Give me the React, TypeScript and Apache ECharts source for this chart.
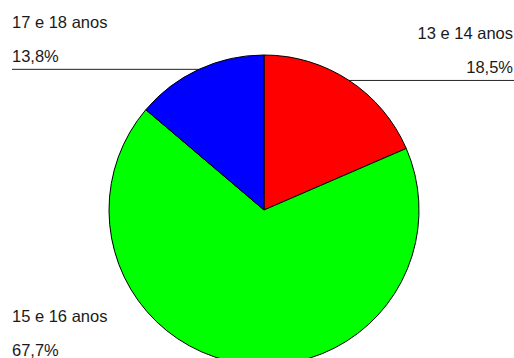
import React, { useEffect, useRef } from "react";
import * as echarts from "echarts";

// Age groups and their shares (%)
const categories = ["13 e 14 anos", "15 e 16 anos", "17 e 18 anos"];
const shares = [18.5, 67.7, 13.8];
const sliceColors = ["#ff0000", "#00ff00", "#0000ff"];

const W = 514;
const H = 358;

const fmtPct = (v: number) => v.toFixed(1).replace(".", ",") + "%";

export default function App() {
  const ref = useRef<HTMLDivElement>(null);

  useEffect(() => {
    if (!ref.current) return;
    const chart = echarts.init(ref.current, undefined, { renderer: "svg" });
    const cx = 264;
    const leftEdge = 12;
    const rightEdge = 513;

    chart.setOption({
      animation: false,
      backgroundColor: "#ffffff",
      series: [
        {
          type: "pie",
          center: [cx, 210],
          radius: 155,
          startAngle: 90,
          clockwise: true,
          avoidLabelOverlap: false,
          itemStyle: { borderColor: "#000000", borderWidth: 1 },
          label: {
            show: true,
            position: "outside",
            fontFamily: "Liberation Sans, Arial, sans-serif",
            fontSize: 16.5,
            color: "#1a1a1a",
            lineHeight: 33.5,
            formatter: (p: any) => `${p.name}\n${fmtPct(p.value)}`,
          },
          labelLine: {
            show: true,
            length: 10,
            length2: 10,
            smooth: false,
            lineStyle: { color: "#222222", width: 1 },
          },
          labelLayout: (params: any) => {
            const p0 = params.labelLinePoints
              ? params.labelLinePoints[0]
              : [cx, 210];
            const onLeft = p0[0] < cx;
            return {
              x: onLeft ? leftEdge : rightEdge,
              y: p0[1] + 3,
              align: onLeft ? "left" : "right",
              verticalAlign: "bottom",
              labelLinePoints: [
                [p0[0], p0[1]],
                [p0[0], p0[1]],
                [onLeft ? leftEdge : W + 2, p0[1]],
              ],
            };
          },
          data: categories.map((name, i) => ({
            name,
            value: shares[i],
            itemStyle: { color: sliceColors[i] },
          })),
        },
      ],
    });

    return () => chart.dispose();
  }, []);

  return (
    <div
      ref={ref}
      style={{ position: "fixed", left: 0, top: 0, width: W, height: H }}
    />
  );
}
